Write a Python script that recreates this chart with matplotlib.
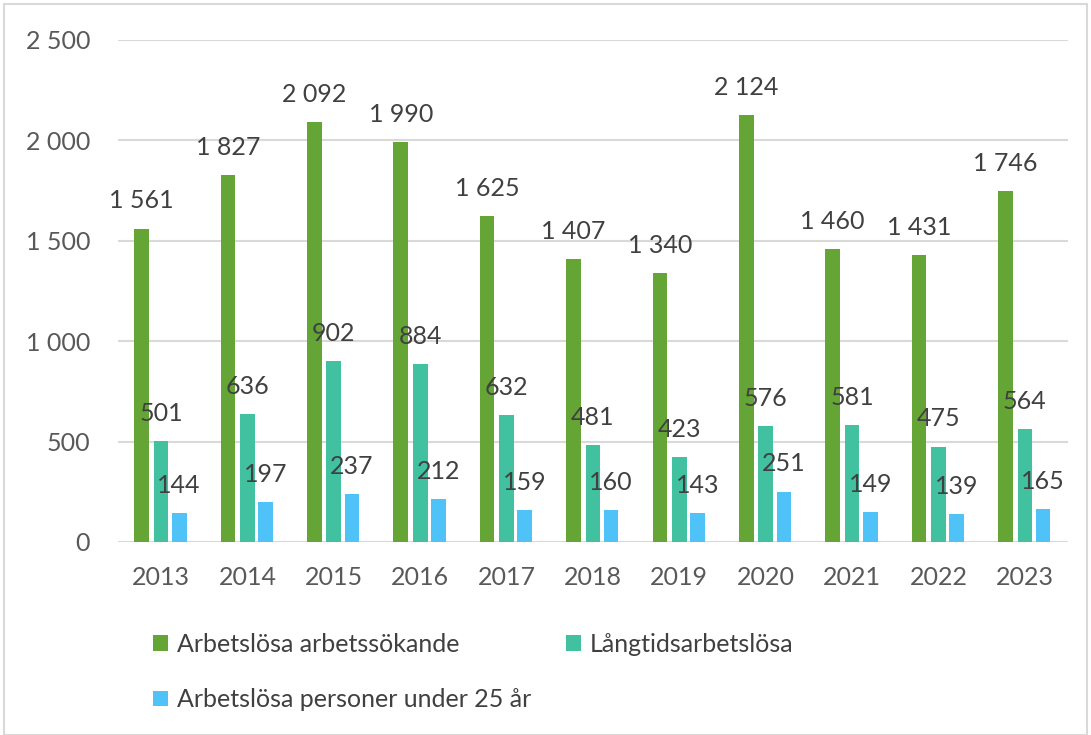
import matplotlib.pyplot as plt
import numpy as np
from matplotlib.patches import Rectangle

# Data
years = ["2013", "2014", "2015", "2016", "2017", "2018", "2019", "2020", "2021", "2022", "2023"]
arbetssokande = [1561, 1827, 2092, 1990, 1625, 1407, 1340, 2124, 1460, 1431, 1746]
langtids = [501, 636, 902, 884, 632, 481, 423, 576, 581, 475, 564]
unga = [144, 197, 237, 212, 159, 160, 143, 251, 149, 139, 165]

series_names = ["Arbetslösa arbetssökande", "Långtidsarbetslösa", "Arbetslösa personer under 25 år"]
colors = ["#64a535", "#41c1a0", "#4fc3f7"]

plt.rcParams['font.family'] = ['Lato', 'DejaVu Sans']


def fmt(v):
    return f"{v:,}".replace(",", " ")


fig = plt.figure(figsize=(10.91, 7.35), dpi=100)
ax = fig.add_axes([0.108, 0.2626, 0.871, 0.683])

x = np.arange(len(years))
w = 0.17
offsets = [-0.225, 0.0, 0.21]
bars = []
for vals, off, c, name in zip([arbetssokande, langtids, unga], offsets, colors, series_names):
    b = ax.bar(x + off, vals, width=w, color=c, label=name, zorder=3)
    bars.append(b)
    for xi, v in zip(x + off, vals):
        ax.annotate(fmt(v), (xi, v), xytext=(0, 14.5), textcoords='offset points',
                    ha='center', va='baseline', fontsize=18, color='#404040', zorder=4)

ax.set_xlim(-0.5, len(years) - 0.5)
ax.set_ylim(0, 2500)
ax.set_yticks(range(0, 2501, 500))
ax.set_yticklabels([fmt(v) for v in range(0, 2501, 500)])
ax.set_xticks(x)
ax.set_xticklabels(years)
ax.tick_params(axis='both', length=0, labelsize=18, labelcolor='#595959')
ax.tick_params(axis='y', pad=20)
ax.tick_params(axis='x', pad=17)
ax.grid(axis='y', color='#d9d9d9', linewidth=1.5, zorder=0)
for s in ax.spines.values():
    s.set_visible(False)

# legend in row-major order
h = [bars[0], bars[2], bars[1]]
l = [series_names[0], series_names[2], series_names[1]]
fig.legend(h, l, ncol=2, loc='upper left', bbox_to_anchor=(0.140, 0.139),
           frameon=False, fontsize=18, labelcolor='#404040', handlelength=0.6, handleheight=0.6,
           handletextpad=0.36, columnspacing=1.4, labelspacing=1.3, borderpad=0, borderaxespad=0)

# light frame around chart
fig.patches.append(Rectangle((0.004, 0.0), 0.992, 0.995, transform=fig.transFigure,
                             fill=False, edgecolor='#d9d9d9', linewidth=1.5))

fig.savefig("out.png", dpi=100)
